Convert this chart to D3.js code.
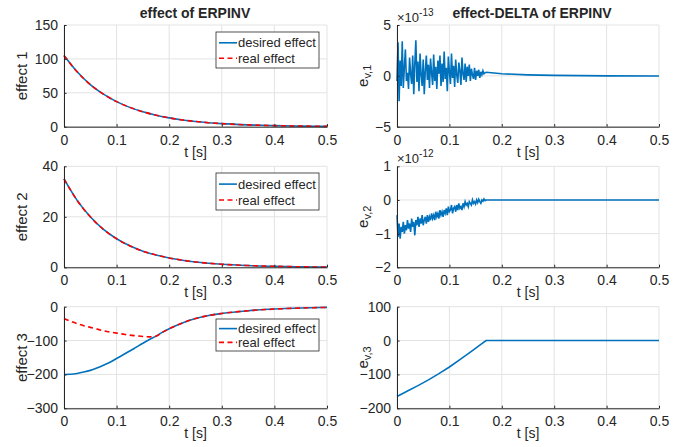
<!DOCTYPE html>
<html>
<head>
<meta charset='utf-8'>
<title>effect of ERPINV</title>
<script src='https://cdn.jsdelivr.net/npm/d3@7'></script>
<style>
  body {margin:0; background:#fff;}
  svg text {font-family:Arial,'Liberation Sans',sans-serif; fill:#262626;}
  .tick text {font-size:14px;}
  .grid line {stroke:#e3e3e3; stroke-width:1;}
</style>
</head>
<body>
<svg id='chart' width='692' height='447'></svg>
<script>
// time samples (s)
var tCurve=[0,0.025,0.05,0.075,0.1,0.125,0.15,0.175,0.2,0.225,0.25,0.275,0.3,0.35,0.4,0.45,0.5];
var eff1Desired=[105,81,62,48,37,28.5,22,17,13,10,7.7,5.9,4.5,2.7,1.6,0.9,0.5];
var eff1Real=eff1Desired.slice();
var eff2Desired=[35,26.5,20,15,11.3,8.5,6.4,4.9,3.7,2.8,2.1,1.6,1.2,0.7,0.4,0.2,0.1];
var eff2Real=eff2Desired.slice();
var tCurve3=[0,0.0125,0.025,0.0375,0.05,0.0625,0.075,0.0875,0.1,0.1125,0.125,0.1375,0.15,0.1625,0.175,
  0.1875,0.2,0.225,0.25,0.275,0.3,0.35,0.4,0.45,0.5];
var eff3Desired=[-200,-199.5,-197,-193,-188,-181,-173,-164,-153,-142,-131,-119.5,-108,-97,-87,
  -75,-65,-48,-35,-26,-20,-12,-7,-4,-2];
var eff3Real=[-35,-43,-50,-56,-61,-66,-71,-75,-78,-81,-84,-86,-88,-89,-87,
  -75,-65,-48,-35,-26,-20,-12,-7,-4,-2];

// delta signals, noisy part sampled every 2 ms up to 0.17 s
var tNoise=d3.range(0,0.1715,0.002);
var ev1Noise=[-0.5,3.3,-2.5,1.5,-1.0,3.4,-1.2,0.8,2.6,-0.5,
  0.3,-1.3,1.8,0.2,-0.8,2.0,-1.8,1.2,3.5,-0.6,
  1.4,-1.5,2.2,0.1,-1.0,1.6,-1.8,0.5,2.0,-0.4,
  1.1,-1.2,1.7,0.3,-0.9,2.1,-0.5,0.9,-1.3,1.5,
  0.2,2.0,-1.0,1.2,-0.6,2.4,-0.3,0.8,-1.5,1.9,
  0.4,-0.8,2.2,-0.2,1.0,-1.1,1.6,0.1,-0.7,1.3,
  0.5,-0.9,1.8,0.2,-0.4,1.2,-0.6,0.9,0.0,1.1,
  -0.5,0.7,0.1,-0.3,0.8,-0.4,0.5,0.0,0.6,-0.2,
  0.4,0.1,0.5,0.2,0.3,0.35];
var tTail=[0.18,0.2,0.25,0.3,0.4,0.5];
var ev1Tail=[0.3,0.2,0.1,0.05,0.0,-0.02];
var ev2Noise=[-0.45,-1.1,-0.7,-1.15,-0.8,-0.95,-0.65,-1.0,-0.75,-0.9,-0.6,-0.85,-0.7,-0.95,-0.55,-0.8,-0.65,-1.05,-0.6,-0.75,
  -0.5,-0.8,-0.55,-0.7,-0.45,-0.75,-0.6,-0.5,-0.7,-0.45,-0.65,-0.5,-0.6,-0.4,-0.55,-0.45,-0.6,-0.35,-0.5,-0.4,
  -0.55,-0.3,-0.45,-0.35,-0.5,-0.3,-0.4,-0.25,-0.45,-0.2,-0.35,-0.3,-0.15,-0.4,-0.25,-0.2,-0.35,-0.15,-0.3,-0.1,
  -0.25,-0.2,-0.3,-0.1,-0.2,-0.05,-0.15,-0.1,-0.2,-0.05,-0.1,-0.15,0.0,-0.1,-0.05,-0.12,0.0,-0.08,0.02,-0.05,
  -0.1,0.0,-0.04,0.03,-0.02,0.0];
var ev2Tail=[0,0,0,0,0,0];
var tEv3=[0,0.02,0.04,0.06,0.08,0.1,0.12,0.14,0.16,0.17,0.2,0.3,0.4,0.5];
var ev3=[-165,-149,-133,-116,-97.5,-78,-56,-34,-11,0,0,0,0,0];

var xTicks=[0,0.1,0.2,0.3,0.4,0.5];
var legendLabels=['desired effect','real effect'];
var blue='#0072bd', red='#ff0000';

var svg=d3.select('#chart');
var cols=[[64,327],[397,659]];
var rows=[[25,126.7],[166.3,267.3],[306.7,408.3]];

function zip(t,v){return t.map(function(d,i){return [d,v[i]];});}

function panel(c,r,yDom,yTicks,series,opts){
  var x=d3.scaleLinear().domain([0,0.5]).range(cols[c]);
  var y=d3.scaleLinear().domain(yDom).range([rows[r][1],rows[r][0]]);
  var g=svg.append('g');
  // grid
  var gr=g.append('g').attr('class','grid');
  gr.selectAll('.gx').data(xTicks).enter().append('line')
    .attr('x1',x).attr('x2',x).attr('y1',rows[r][0]).attr('y2',rows[r][1]);
  gr.selectAll('.gy').data(yTicks).enter().append('line')
    .attr('y1',y).attr('y2',y).attr('x1',cols[c][0]).attr('x2',cols[c][1]);
  // lines
  series.forEach(function(s){
    var line=d3.line().x(function(d){return x(d[0]);}).y(function(d){return y(d[1]);})
      .curve(s.smooth?d3.curveMonotoneX:d3.curveLinear);
    g.append('path').datum(s.data).attr('d',line).attr('fill','none')
     .attr('stroke',s.color).attr('stroke-width',1.6)
     .attr('stroke-dasharray',s.dash?'5,3.5':null);
  });
  // axes
  var ax=g.append('g').attr('transform','translate(0,'+rows[r][1]+')')
    .call(d3.axisBottom(x).tickValues(xTicks).tickSizeInner(-2.6).tickSizeOuter(0).tickPadding(8)
      .tickFormat(function(d){return d===0?'0':d3.format('.1f')(d);}));
  var ay=g.append('g').attr('transform','translate('+cols[c][0]+',0)')
    .call(d3.axisLeft(y).tickValues(yTicks).tickSizeInner(-2.6).tickSizeOuter(0).tickPadding(6)
      .tickFormat(d3.format('d')));
  [ax,ay].forEach(function(a){
    a.attr('font-family',null);
    a.select('.domain').attr('stroke','#262626').attr('stroke-width',1);
    a.selectAll('.tick line').attr('stroke','#262626');
    a.selectAll('.tick text').attr('fill','#262626');
  });
  // x label
  g.append('text').attr('x',(cols[c][0]+cols[c][1])/2).attr('y',rows[r][1]+30)
    .attr('text-anchor','middle').style('font-size','14px').text('t [s]');
  // y label
  var yl=g.append('text').attr('transform','translate('+(cols[c][0]-(c?29:37))+','+((rows[r][0]+rows[r][1])/2)+') rotate(-90)')
    .attr('text-anchor','middle').style('font-size','15px');
  if(c===0){yl.text('effect '+(r+1));}
  else{
    yl.append('tspan').text('e');
    yl.append('tspan').attr('baseline-shift','-30%').style('font-size','11px').text('v,'+(r+1));
  }
  if(opts.exp){
    var ex=g.append('text').attr('x',cols[c][0]).attr('y',rows[r][0]-3).style('font-size','13px');
    ex.append('tspan').text('\u00d710');
    ex.append('tspan').attr('dy',-6).style('font-size','10px').text(opts.exp);
  }
  if(opts.legend){
    var lx=216, ly=opts.legend, lw=103, lh=opts.lh;
    var lg=g.append('g');
    lg.append('rect').attr('x',lx).attr('y',ly).attr('width',lw).attr('height',lh)
      .attr('fill','#fff').attr('stroke','#262626').attr('stroke-width',0.8);
    legendLabels.forEach(function(l,i){
      var yy=ly+lh*(i===0?0.3:0.73);
      lg.append('line').attr('x1',lx+3).attr('x2',lx+21).attr('y1',yy).attr('y2',yy)
        .attr('stroke',i?red:blue).attr('stroke-width',1.6).attr('stroke-dasharray',i?'5,3.5':null);
      lg.append('text').attr('x',lx+22).attr('y',yy+4.5).style('font-size','13px').text(l);
    });
  }
  if(opts.title){
    g.append('text').attr('x',opts.tx).attr('y',18).attr('text-anchor','middle')
     .style('font-size','14px').style('font-weight','bold').text(opts.title);
  }
}

panel(0,0,[0,150],[0,50,100,150],
  [{data:zip(tCurve,eff1Desired),color:blue,smooth:true},{data:zip(tCurve,eff1Real),color:red,dash:true,smooth:true}],
  {legend:32,lh:36,title:'effect of ERPINV',tx:195});
panel(0,1,[0,40],[0,20,40],
  [{data:zip(tCurve,eff2Desired),color:blue,smooth:true},{data:zip(tCurve,eff2Real),color:red,dash:true,smooth:true}],
  {legend:173,lh:37});
panel(0,2,[-300,0],[-300,-200,-100,0],
  [{data:zip(tCurve3,eff3Desired),color:blue,smooth:true},{data:zip(tCurve3,eff3Real),color:red,dash:true,smooth:true}],
  {legend:319,lh:32});
panel(1,0,[-5,5],[-5,0,5],
  [{data:zip(tNoise,ev1Noise).concat(zip(tTail,ev1Tail)),color:blue}],
  {exp:'-13',title:'effect-DELTA of ERPINV',tx:532});
panel(1,1,[-2,1],[-2,-1,0,1],
  [{data:zip(tNoise,ev2Noise).concat(zip(tTail,ev2Tail)),color:blue}],
  {exp:'-12'});
panel(1,2,[-200,100],[-200,-100,0,100],
  [{data:zip(tEv3,ev3),color:blue}],{});
</script>
</body>
</html>
